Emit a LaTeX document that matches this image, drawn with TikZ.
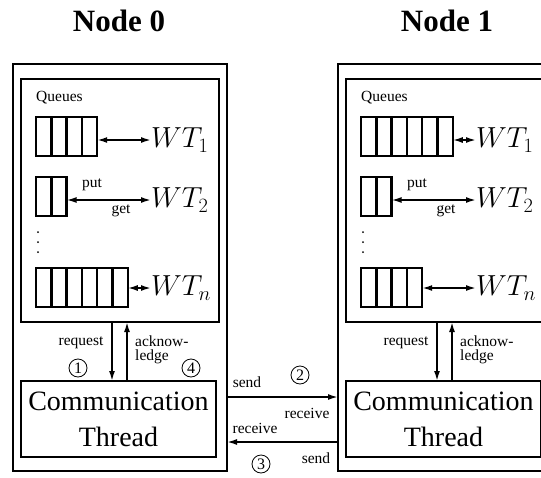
\RequirePackage{fix-cm}
\documentclass[tikz,border=0pt]{standalone}
\usepackage{fontspec}
\setmainfont{Liberation Serif}
\usetikzlibrary{arrows.meta}
\begin{document}
\begin{tikzpicture}[x=1pt,y=-1pt,
  box/.style={draw, line width=2.8pt, inner sep=0pt, outer sep=0pt, anchor=north west},
  qbox/.style={draw, line width=2.4pt, minimum height=39pt, inner sep=0pt, outer sep=0pt, anchor=north west},
  qline/.style={line width=2.4pt},
  arr/.style={line width=1.7pt, -{Latex[length=10pt,width=6pt]}},
  darr/.style={line width=1.7pt, {Latex[length=10pt,width=6pt]}-{Latex[length=10pt,width=6pt]}},
  small/.style={font=\fontsize{15.5}{14}\selectfont, inner sep=0pt},
  big/.style={font=\fontsize{28}{36}\selectfont},
  title/.style={font=\fontsize{31}{34}\selectfont\bfseries, inner sep=0pt},
  num/.style={draw, circle, line width=0.8pt, minimum size=18pt, inner sep=0pt, font=\fontsize{16}{16}\selectfont},
  wt/.style={anchor=west, inner sep=0pt, font=\fontsize{29}{31}\selectfont},
]
\useasboundingbox (0,0) rectangle (541,477);
\clip (0,0) rectangle (541,477);

\node[title] (t0) at (119,21) {Node 0};
\node[title] (t1) at (447,21) {Node 1};

\foreach \d/\n/\ca/\cb in {0/0/4/6, 325/1/6/4} {
  \node[box, minimum width=214pt, minimum height=407pt] (o\n) at (\d+13,64) {};
  \node[box, minimum width=198pt, minimum height=243pt] (in\n) at (\d+21,79) {};
  \node[box, big, minimum width=195pt, minimum height=76pt, align=center] (cm\n) at (\d+21,381) {Communication\\Thread};
  \node[small, anchor=west] (ql\n) at (\d+36,98) {Queues};
  % queues
  \node[qbox, minimum width=\ca*15.3pt] (qa\n) at (\d+36,117) {};
  \node[qbox, minimum width=30.6pt] (qb\n) at (\d+36,177) {};
  \node[qbox, minimum width=\cb*15.3pt] (qc\n) at (\d+36,268) {};
  \pgfmathtruncatemacro\ma{\ca-1}
  \pgfmathtruncatemacro\mc{\cb-1}
  \foreach \k in {1,...,\ma}
    \draw[qline] ([xshift=\k*15.3pt]qa\n.north west) -- ([xshift=\k*15.3pt]qa\n.south west);
  \draw[qline] ([xshift=15.3pt]qb\n.north west) -- ([xshift=15.3pt]qb\n.south west);
  \foreach \k in {1,...,\mc}
    \draw[qline] ([xshift=\k*15.3pt]qc\n.north west) -- ([xshift=\k*15.3pt]qc\n.south west);
  % workers
  \node[wt] (wa\n) at (\d+151,140) {$WT_1$};
  \node[wt] (wb\n) at (\d+151,200) {$WT_2$};
  \node[wt] (wc\n) at (\d+151,288) {$WT_n$};
  \draw[darr] (qa\n.east |- wa\n.west) -- (wa\n.west);
  \draw[darr] (qb\n.east |- wb\n.west) -- (wb\n.west);
  \draw[darr] (qc\n.east |- wc\n.west) -- (wc\n.west);
  \node[small] (put\n) at (\d+92,185) {put};
  \node[small] (get\n) at (\d+121,211) {get};
  \foreach \yy in {232,242,252}
    \fill (\d+38,\yy) circle (1pt);
  % request / acknowledge
  \node[small] (rq\n) at (\d+81,343) {request};
  \node[small, anchor=north west, align=left] (ak\n) at (\d+135,336) {acknow-\\ledge};
  \coordinate (rx\n) at (\d+112,0);
  \coordinate (ax\n) at (\d+127,0);
  \draw[arr] (rx\n |- in\n.south) -- (rx\n |- cm\n.north);
  \draw[arr] (ax\n |- cm\n.north) -- (ax\n |- in\n.south);
}

\node[num] (c1) at (78,368) {1};
\node[num] (c4) at (191,368) {4};

\coordinate (sy) at (0,397);
\coordinate (ry) at (0,442);
\draw[arr] (o0.east |- sy) -- (o1.west |- sy);
\draw[arr] (o1.west |- ry) -- (o0.east |- ry);
\node[small] (s1) at (247,382) {send};
\node[small] (r1) at (307,413) {receive};
\node[small] (r2) at (255,428) {receive};
\node[small] (s2) at (316,458) {send};
\node[num] (c2) at (300,375) {2};
\node[num] (c3) at (261,464) {3};
\end{tikzpicture}
\end{document}
